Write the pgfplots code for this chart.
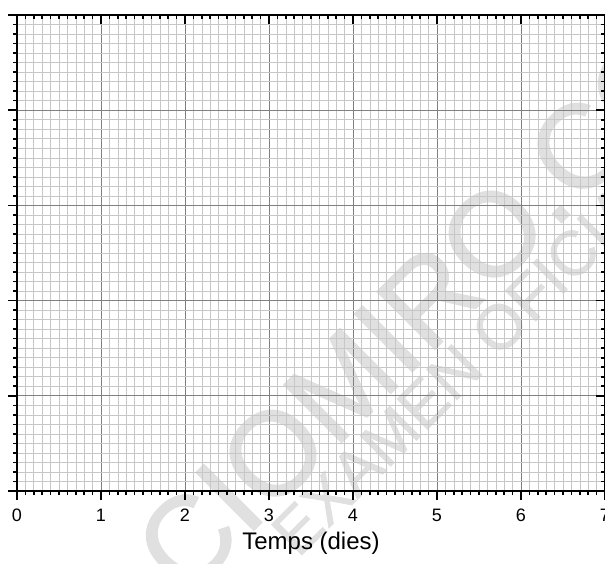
\documentclass[border=0pt]{standalone}
\usepackage{fontspec}
\setmainfont{Liberation Sans}
\newfontfamily\wmfont[FakeBold=1.2]{Liberation Sans}
\usepackage{pgfplots}
\pgfplotsset{compat=1.18}
\begin{document}
\begin{tikzpicture}
\useasboundingbox (-12.75pt,-54pt) rectangle (441pt,368.25pt);
\node[rotate=45, anchor=base west, inner sep=0pt, text=black!12, font=\wmfont\fontsize{89}{89}\selectfont] at (126.3pt,-80.85pt) {CIOMIRO.COM};
\node[rotate=45, anchor=base west, inner sep=0pt, text=black!12, font=\wmfont\fontsize{47}{48}\selectfont] at (210.8pt,-50.8pt) {EXAMEN OFICIAL};
\begin{axis}[
  at={(0pt,0pt)}, anchor=south west,
  scale only axis, width=441pt, height=357pt,
  xmin=0, xmax=7, ymin=0, ymax=5,
  xtick={0,...,7}, ytick={0,...,5}, yticklabels={},
  minor x tick num=9, minor y tick num=9,
  grid=both,
  minor grid style={black!22, line width=0.45pt},
  major grid style={black!50, line width=0.6pt},
  tick align=outside, xtick pos=bottom, ytick pos=left,
  major tick length=6.75pt, minor tick length=3pt,
  every tick/.style={black, line width=1.2pt},
  axis line style={black, line width=1.6pt},
  /pgf/number format/assume math mode=true,
  xticklabel shift=3.5pt,
  xticklabel style={font=\fontsize{13.5}{15}\selectfont},
  xlabel={Temps (dies)},
  xlabel style={font=\fontsize{18}{20}\selectfont, at={(axis description cs:0.5,-0.1224)}, anchor=base},
]
\addplot[draw=none, forget plot] coordinates {(0,0) (7,5)};
\end{axis}
\begin{axis}[
  at={(0pt,0pt)}, anchor=south west,
  scale only axis, width=441pt, height=357pt,
  xmin=0, xmax=7, ymin=0, ymax=5,
  xtick={0,...,7}, ytick={0,...,5}, xticklabels={}, yticklabels={},
  minor x tick num=9, minor y tick num=9,
  tick align=inside, xtick pos=top, ytick pos=right,
  major tick length=6.75pt, minor tick length=3pt,
  every tick/.style={black, line width=1.2pt},
  axis line style={black, line width=1.6pt},
]
\addplot[draw=none, forget plot] coordinates {(0,0) (7,5)};
\end{axis}
\end{tikzpicture}
\end{document}
